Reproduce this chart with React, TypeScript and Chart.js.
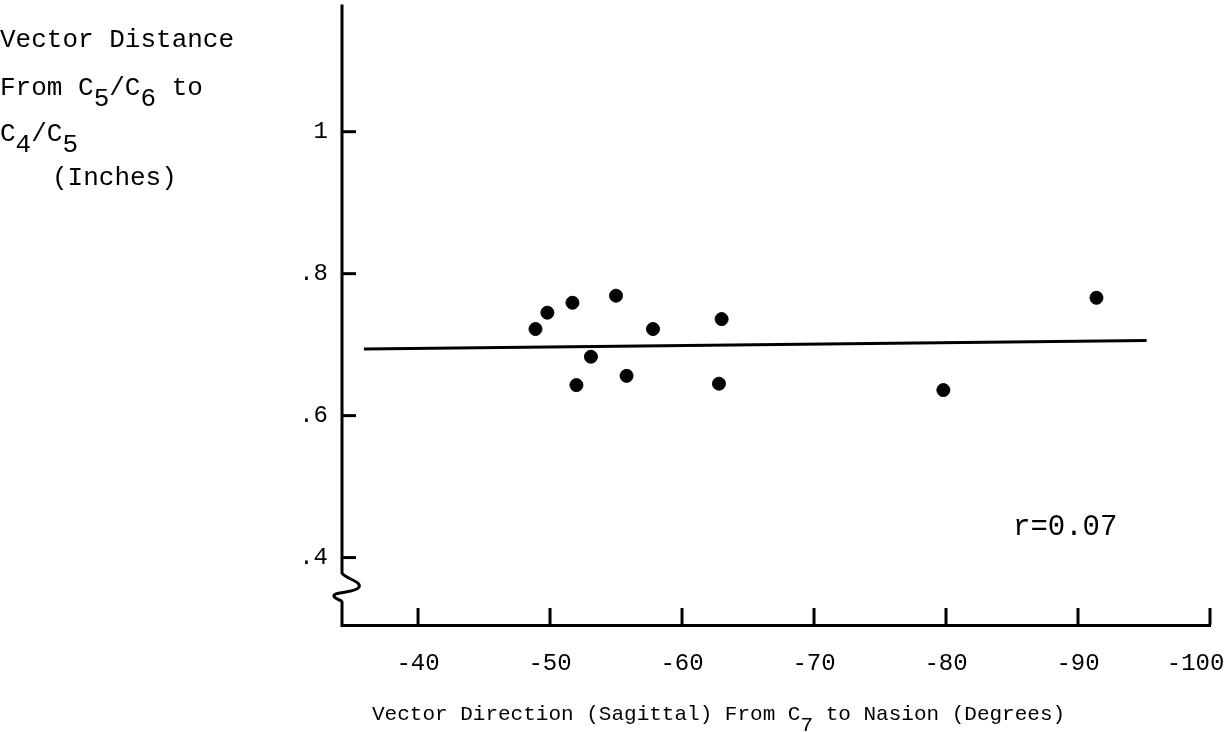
import React, { useEffect, useRef } from "react";
import { Chart, registerables } from "chart.js";

Chart.register(...registerables);

// Data
const xValues = [-48.9, -49.8, -51.7, -55.0, -57.8, -63.0, -53.1, -52.0, -55.8, -62.8, -91.4, -79.8];
const yValues = [0.722, 0.745, 0.759, 0.769, 0.722, 0.736, 0.683, 0.643, 0.656, 0.645, 0.766, 0.636];

// Regression line end points
const fitX = [-35.9, -95.2];
const fitY = [0.694, 0.706];

// Axes
const xTickValues = [-40, -50, -60, -70, -80, -90, -100];
const xTickLabels = ["-40", "-50", "-60", "-70", "-80", "-90", "-100"];
const yTickValues = [1, 0.8, 0.6, 0.4];
const yTickLabels = ["1", ".8", ".6", ".4"];
const xRange = [-100, -34.24];
const yRange = [0.305, 1.175];
const axisBreak = [0.378, 0.337];

const MONO = "'Liberation Mono', 'DejaVu Sans Mono', monospace";

const axisPlugin = {
  id: "typedAxes",
  afterDraw(chart: any) {
    const ctx = chart.ctx;
    const xs = chart.scales.x;
    const ys = chart.scales.y;
    const ax = chart.chartArea.left;
    const axisY = xs.top;
    ctx.save();
    ctx.strokeStyle = "#000";
    ctx.lineWidth = 3;
    ctx.lineCap = "butt";
    // y axis with break squiggle
    const b1 = ys.getPixelForValue(axisBreak[0]);
    const b2 = ys.getPixelForValue(axisBreak[1]);
    const h = b2 - b1;
    ctx.beginPath();
    ctx.moveTo(ax, chart.chartArea.top - 3);
    ctx.lineTo(ax, b1);
    ctx.bezierCurveTo(ax + 4, b1 + h * 0.2, ax + 20, b1 + h * 0.28, ax + 17, b1 + h * 0.48);
    ctx.bezierCurveTo(ax + 14, b1 + h * 0.69, ax - 10, b1 + h * 0.62, ax - 8, b1 + h * 0.8);
    ctx.bezierCurveTo(ax - 6, b1 + h * 0.93, ax, b1 + h * 0.9, ax, b2);
    ctx.lineTo(ax, axisY + 2);
    ctx.stroke();
    // inward ticks on x axis
    for (const v of xTickValues) {
      const px = xs.getPixelForValue(v);
      ctx.beginPath();
      ctx.moveTo(px, axisY);
      ctx.lineTo(px, axisY - 17);
      ctx.stroke();
    }
    // inward ticks on y axis
    for (const v of yTickValues) {
      const py = ys.getPixelForValue(v);
      ctx.beginPath();
      ctx.moveTo(ax, py);
      ctx.lineTo(ax + 14, py);
      ctx.stroke();
    }
    ctx.restore();
  },
};

function ScatterChart() {
  const ref = useRef<HTMLCanvasElement | null>(null);
  useEffect(() => {
    if (!ref.current) return;
    const chart = new Chart(ref.current, {
      type: "scatter",
      data: {
        datasets: [
          {
            label: "points",
            data: xValues.map((x, i) => ({ x, y: yValues[i] })),
            backgroundColor: "#000",
            borderColor: "#000",
            pointRadius: 6.5,
            pointHoverRadius: 6.5,
            showLine: false,
          },
          {
            label: "fit",
            data: fitX.map((x, i) => ({ x, y: fitY[i] })),
            showLine: true,
            borderColor: "#000",
            borderWidth: 3,
            pointRadius: 0,
            fill: false,
          },
        ],
      },
      options: {
        animation: false,
        responsive: false,
        devicePixelRatio: 1,
        layout: { padding: { left: 0, top: 3, right: 18, bottom: 0 } },
        plugins: {
          legend: { display: false },
          tooltip: { enabled: false },
          title: { display: false },
        },
        scales: {
          x: {
            type: "linear",
            reverse: true,
            min: xRange[0],
            max: xRange[1],
            border: { display: true, color: "#000", width: 3 },
            grid: { display: true, drawOnChartArea: false, drawTicks: false },
            afterBuildTicks: (scale: any) => {
              scale.ticks = xTickValues.map((v) => ({ value: v }));
            },
            afterFit: (scale: any) => {
              scale.height = 107;
              scale.paddingLeft = 0;
              scale.paddingRight = 0;
            },
            ticks: {
              autoSkip: false,
              maxRotation: 0,
              padding: 24,
              color: "#000",
              font: { family: MONO, size: 24 },
              callback: (v: any) => {
                const i = xTickValues.indexOf(Number(v));
                if (i < 0) return "";
                // keep the last label inside the page, as in the typed original
                return i === xTickLabels.length - 1 ? xTickLabels[i] + "  " : xTickLabels[i];
              },
            },
          },
          y: {
            type: "linear",
            min: yRange[0],
            max: yRange[1],
            border: { display: false },
            grid: { display: true, drawOnChartArea: false, drawTicks: false },
            afterBuildTicks: (scale: any) => {
              scale.ticks = yTickValues.map((v) => ({ value: v }));
            },
            afterFit: (scale: any) => {
              scale.width = 342;
              scale.paddingTop = 0;
              scale.paddingBottom = 0;
            },
            ticks: {
              autoSkip: false,
              padding: 14,
              color: "#000",
              font: { family: MONO, size: 24 },
              callback: (v: any) => {
                const i = yTickValues.indexOf(Number(v));
                return i >= 0 ? yTickLabels[i] : "";
              },
            },
          },
        },
      },
      plugins: [axisPlugin],
    });
    return () => chart.destroy();
  }, []);
  return <canvas ref={ref} width={1228} height={732} style={{ position: "absolute", left: 0, top: 0 }} />;
}

const textStyle: React.CSSProperties = {
  position: "absolute",
  fontFamily: MONO,
  fontSize: 26,
  color: "#000",
  whiteSpace: "pre",
  lineHeight: "26px",
};

const Sub = ({ children }: { children: React.ReactNode }) => (
  <span style={{ position: "relative", top: 11 }}>{children}</span>
);

export default function App() {
  return (
    <div style={{ position: "fixed", left: 0, top: 0, width: 1228, height: 732, background: "#fff", overflow: "hidden" }}>
      <ScatterChart />
      <div style={{ ...textStyle, left: 0, top: 27 }}>Vector Distance</div>
      <div style={{ ...textStyle, left: 0, top: 75 }}>
        From C<Sub>5</Sub>/C<Sub>6</Sub> to
      </div>
      <div style={{ ...textStyle, left: 0, top: 121 }}>
        C<Sub>4</Sub>/C<Sub>5</Sub>
      </div>
      <div style={{ ...textStyle, left: 52, top: 165 }}>(Inches)</div>
      <div style={{ ...textStyle, left: 1013, top: 513, fontSize: 29, lineHeight: "29px" }}>r=0.07</div>
      <div style={{ ...textStyle, left: 372, top: 704, fontSize: 21, lineHeight: "21px" }}>
        Vector Direction (Sagittal) From C<Sub>7</Sub> to Nasion (Degrees)
      </div>
    </div>
  );
}
